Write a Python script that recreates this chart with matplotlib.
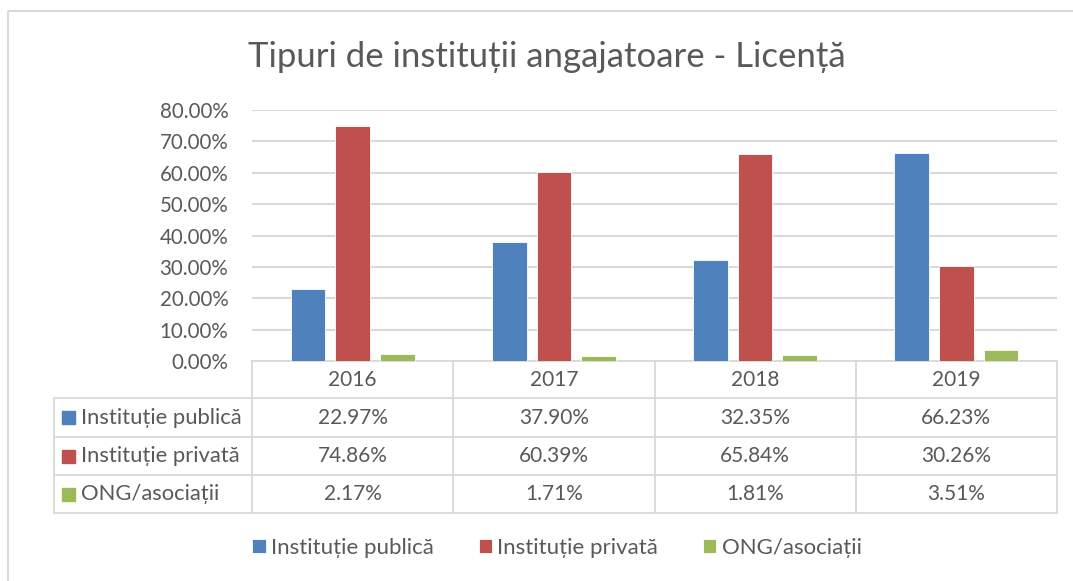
import numpy as np
import matplotlib
matplotlib.use("Agg")
import matplotlib.pyplot as plt
from matplotlib.patches import Rectangle

plt.rcParams['font.family'] = ['Lato', 'DejaVu Sans']

# date
years = ['2016', '2017', '2018', '2019']
series = ['Instituție publică', 'Instituție privată', 'ONG/asociații']
publica = [22.97, 37.90, 32.35, 66.23]
privata = [74.86, 60.39, 65.84, 30.26]
ong = [2.17, 1.71, 1.81, 3.51]
yticks = [0, 10, 20, 30, 40, 50, 60, 70, 80]
title = 'Tipuri de instituții angajatoare - Licență'

colors = ['#4F81BD', '#C0504D', '#9BBB59']
txt = '#595959'
grid = '#D9D9D9'

W, H = 1073, 581
fig = plt.figure(figsize=(W / 100, H / 100), dpi=100)

# pixel helpers
def fx(px):
    return px / W

def fy(py):
    return 1 - py / H

# bar area in pixels
x0, x1 = 252, 1057
y_top, y_bot = 110, 361
ax = fig.add_axes([fx(x0), fy(y_bot), fx(x1) - fx(x0), fy(y_top) - fy(y_bot)])

vals = [publica, privata, ong]
x = np.arange(len(years))
bw = 0.1725
step = 0.222
bars = []
for i, v in enumerate(vals):
    b = ax.bar(x + (i - 1) * step, v, width=bw, color=colors[i],
               edgecolor='white', linewidth=0.6, zorder=3)
    bars.append(b)

ax.set_xlim(-0.5, len(years) - 0.5)
ax.set_ylim(0, 80)
ax.set_yticks(yticks)
ax.set_yticklabels(['%.2f%%' % t for t in yticks])
ax.yaxis.grid(True, color=grid, linewidth=1.5, zorder=0)
ax.set_axisbelow(True)
ax.tick_params(axis='y', length=0, pad=17, labelsize=14.8, labelcolor=txt)
ax.set_xticks([])
for s in ax.spines.values():
    s.set_visible(False)

# overlay in pixel coordinates for table, border
ov = fig.add_axes([0, 0, 1, 1], zorder=-1)
ov.set_xlim(0, W)
ov.set_ylim(H, 0)
ov.axis('off')
ov.add_patch(Rectangle((8, 11), 1100, 620, fill=False, edgecolor=grid, linewidth=1.5))

fig.text(fx(547), fy(57), title, ha='center', va='center', fontsize=25, color=txt)

# table
colw = (x1 - x0) / len(years)
rows = [361, 398, 437, 475, 513]
lab_x = 54
lw = 1.3
ov.plot([x0, x1], [rows[0], rows[0]], color=grid, lw=lw)
for r in rows[1:]:
    ov.plot([lab_x, x1], [r, r], color=grid, lw=lw)
ov.plot([lab_x, lab_x], [rows[1], rows[-1]], color=grid, lw=lw)
for j in range(len(years) + 1):
    xx = x0 + j * colw
    ov.plot([xx, xx], [rows[0], rows[-1]], color=grid, lw=lw)

for j, yr in enumerate(years):
    cx = x0 + (j + 0.5) * colw
    ov.text(cx, (rows[0] + rows[1]) / 2, yr, ha='center', va='center',
            fontsize=15, color=txt)
    for i, v in enumerate(vals):
        cy = (rows[i + 1] + rows[i + 2]) / 2
        ov.text(cx, cy, '%.2f%%' % v[j], ha='center', va='center',
                fontsize=15, color=txt)

for i, name in enumerate(series):
    cy = (rows[i + 1] + rows[i + 2]) / 2
    ov.add_patch(Rectangle((62, cy - 6.5), 13, 13, color=colors[i]))
    ov.text(81, cy, name, ha='left', va='center', fontsize=15.8, color=txt)

leg = fig.legend([b[0] for b in bars], series, loc='center',
                 bbox_to_anchor=(fx(557), fy(548)), ncol=3, frameon=False,
                 fontsize=16, handlelength=0.6, handleheight=0.6,
                 handletextpad=0.25, columnspacing=2.0)
for t in leg.get_texts():
    t.set_color(txt)

fig.savefig('out.png', dpi=100)
